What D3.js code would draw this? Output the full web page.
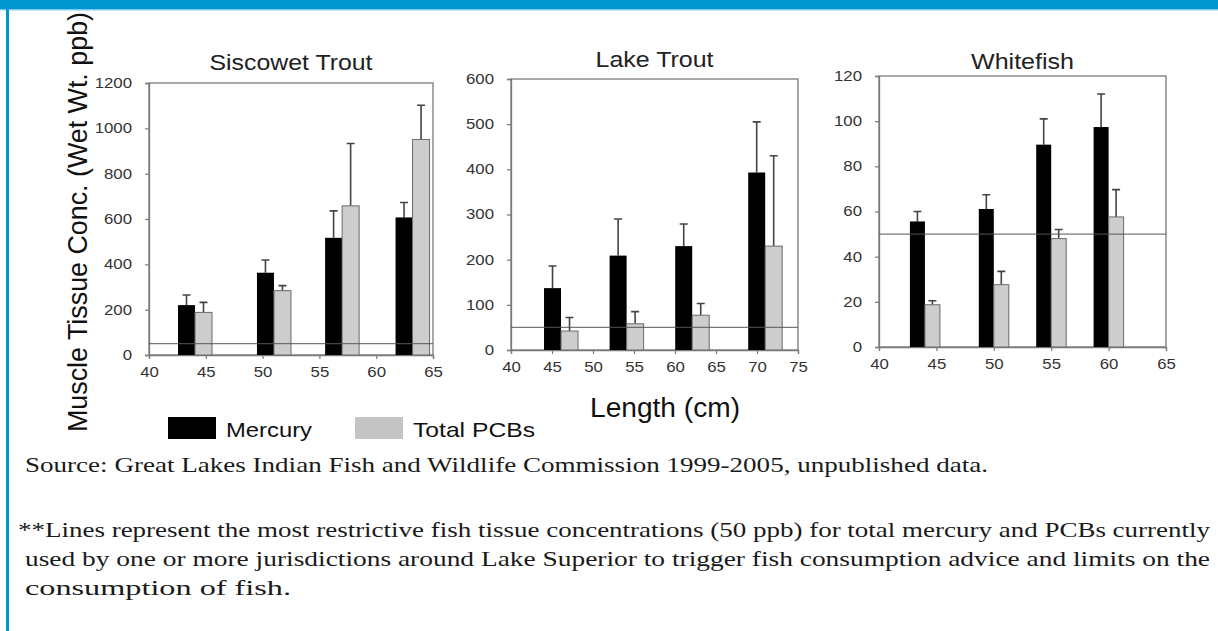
<!DOCTYPE html>
<html>
<head>
<meta charset="utf-8">
<script src="https://cdn.jsdelivr.net/npm/d3@7"></script>
<style>
  body { margin: 0; background: #fff; }
  svg { display: block; }
</style>
</head>
<body>
<div id="chart"></div>
<script>
// length classes (cm) where each pair of bars sits
const siscowetLengths = [44.05, 51.0, 57.0, 63.2]
const lakeLengths = [46.1, 54.1, 62.1, 71.0]
const whitefishLengths = [44.0, 50.0, 55.0, 60.0]

// mean values and upper error (mean + se), ppb
const siscowetMercury = [220, 363, 517, 607]
const siscowetMercuryErr = [265, 419, 636, 673]
const siscowetPCB = [188, 284, 658, 951]
const siscowetPCBErr = [232, 306, 933, 1102]

const lakeMercury = [137, 209, 230, 393]
const lakeMercuryErr = [186, 290, 279, 505]
const lakePCB = [42, 58, 77, 230]
const lakePCBErr = [72, 85, 103, 430]

const whitefishMercury = [55.6, 61.1, 89.6, 97.4]
const whitefishMercuryErr = [60, 67.4, 101, 112]
const whitefishPCB = [18.7, 27.6, 48, 57.6]
const whitefishPCBErr = [20.5, 33.5, 52, 69.7]

const siscowetYTicks = [0, 200, 400, 600, 800, 1000, 1200]
const lakeYTicks = [0, 100, 200, 300, 400, 500, 600]
const whitefishYTicks = [0, 20, 40, 60, 80, 100, 120]
const siscowetXTicks = [40, 45, 50, 55, 60, 65]
const lakeXTicks = [40, 45, 50, 55, 60, 65, 70, 75]
const whitefishXTicks = [40, 45, 50, 55, 60, 65]

const adviceLevel = 50
const seriesNames = ["Mercury", "Total PCBs"]

const panels = [
    {title: "Siscowet Trout", lengths: siscowetLengths, hg: siscowetMercury, hgErr: siscowetMercuryErr,
     pcb: siscowetPCB, pcbErr: siscowetPCBErr, yTicks: siscowetYTicks, xTicks: siscowetXTicks,
     box: {left: 149, right: 433, top: 83, bottom: 355}, barW: 17, titleY: 70, titleW: 163},
    {title: "Lake Trout", lengths: lakeLengths, hg: lakeMercury, hgErr: lakeMercuryErr,
     pcb: lakePCB, pcbErr: lakePCBErr, yTicks: lakeYTicks, xTicks: lakeXTicks,
     box: {left: 511, right: 798, top: 79, bottom: 350}, barW: 17, titleY: 67, titleW: 118},
    {title: "Whitefish", lengths: whitefishLengths, hg: whitefishMercury, hgErr: whitefishMercuryErr,
     pcb: whitefishPCB, pcbErr: whitefishPCBErr, yTicks: whitefishYTicks, xTicks: whitefishXTicks,
     box: {left: 879, right: 1166, top: 76, bottom: 347}, barW: 15, titleY: 69, titleW: 103}
]

const width = 1218, height = 631
const sans = "'Liberation Sans', Arial, sans-serif"
const serif = "'Liberation Serif', 'Times New Roman', serif"
const stretch = 1.2   // the source figure is a bit wider than tall

const svg = d3.select("#chart")
    .append("svg")
        .attr("width", width)
        .attr("height", height)

// blue frame of the page
svg.append("rect")
    .attr("x", 0).attr("y", 0)
    .attr("width", width).attr("height", 9)
    .attr("fill", "#0096d0")
svg.append("rect")
    .attr("x", 0).attr("y", 9)
    .attr("width", width).attr("height", 1.5)
    .attr("fill", "#7ccbea")
svg.append("rect")
    .attr("x", 6).attr("y", 9)
    .attr("width", 3).attr("height", height - 9)
    .attr("fill", "#0096d0")

panels.forEach(p => {
    const b = p.box
    const x = d3.scaleLinear()
        .domain([p.xTicks[0], p.xTicks[p.xTicks.length - 1]])
        .range([b.left, b.right])
    const y = d3.scaleLinear()
        .domain([0, p.yTicks[p.yTicks.length - 1]])
        .range([b.bottom, b.top])

    const g = svg.append("g")

    // plot frame
    g.append("rect")
        .attr("x", b.left).attr("y", b.top)
        .attr("width", b.right - b.left).attr("height", b.bottom - b.top)
        .attr("fill", "none")
        .attr("stroke", "#7a7a7a")
        .attr("stroke-width", 1.3)

    g.append("text")
        .attr("x", (b.left + b.right) / 2 - p.titleW / 2)
        .attr("y", p.titleY)
        .attr("font-family", sans)
        .attr("font-size", 22)
        .attr("fill", "#222")
        .attr("textLength", p.titleW)
        .attr("lengthAdjust", "spacingAndGlyphs")
        .text(p.title)

    const yAxis = g.append("g")
        .attr("transform", "translate(" + b.left + ",0)")
        .call(d3.axisLeft(y).tickValues(p.yTicks).tickFormat(d3.format("d")).tickSize(4).tickPadding(13))
    const xAxis = g.append("g")
        .attr("transform", "translate(0," + b.bottom + ")")
        .call(d3.axisBottom(x).tickValues(p.xTicks).tickFormat(d3.format("d")).tickSize(4).tickPadding(8))
    ;[yAxis, xAxis].forEach(a => {
        a.attr("font-family", sans).attr("font-size", 14)
        a.select(".domain").attr("stroke", "#7a7a7a").attr("stroke-width", 1.3)
        a.selectAll(".tick line").attr("stroke", "#7a7a7a").attr("stroke-width", 1.2)
        a.selectAll("text")
            .style("font-family", sans)
            .style("font-size", "14px")
            .attr("fill", "#333")
            .attr("transform", "scale(" + stretch + ",1)")
    })
    yAxis.selectAll("text").attr("x", -17 / stretch)

    const bw = p.barW
    const rows = p.lengths.map((len, i) => ({len: len, hg: p.hg[i], hgErr: p.hgErr[i], pcb: p.pcb[i], pcbErr: p.pcbErr[i]}))

    // error bars (drawn first, bars cover their base)
    const errs = []
    rows.forEach(d => {
        errs.push({cx: x(d.len) - bw / 2, v: d.hg, e: d.hgErr})
        errs.push({cx: x(d.len) + bw / 2, v: d.pcb, e: d.pcbErr})
    })
    g.selectAll(".err")
        .data(errs)
        .enter()
        .append("path")
            .attr("class", "err")
            .attr("d", d => "M" + d.cx + "," + y(d.v) + "V" + y(d.e) + "M" + (d.cx - 4) + "," + y(d.e) + "H" + (d.cx + 4))
            .attr("fill", "none")
            .attr("stroke", "#444")
            .attr("stroke-width", 1.6)

    g.selectAll(".hg")
        .data(rows)
        .enter()
        .append("rect")
            .attr("class", "hg")
            .attr("x", d => x(d.len) - bw)
            .attr("y", d => y(d.hg))
            .attr("width", bw)
            .attr("height", d => y(0) - y(d.hg))
            .attr("fill", "#000")

    g.selectAll(".pcb")
        .data(rows)
        .enter()
        .append("rect")
            .attr("class", "pcb")
            .attr("x", d => x(d.len))
            .attr("y", d => y(d.pcb))
            .attr("width", bw)
            .attr("height", d => y(0) - y(d.pcb))
            .attr("fill", "#cdcdcd")
            .attr("stroke", "#6a6a6a")
            .attr("stroke-width", 1)

    // 50 ppb advisory line
    g.append("line")
        .attr("x1", b.left).attr("x2", b.right)
        .attr("y1", y(adviceLevel)).attr("y2", y(adviceLevel))
        .attr("stroke", "#555")
        .attr("stroke-opacity", 0.8)
        .attr("stroke-width", 1.2)
})

// shared axis titles
svg.append("text")
    .attr("transform", "translate(87,432) rotate(-90)")
    .attr("font-family", sans)
    .attr("font-size", 27)
    .attr("fill", "#111")
    .attr("textLength", 420)
    .attr("lengthAdjust", "spacingAndGlyphs")
    .text("Muscle Tissue Conc. (Wet Wt. ppb)")

svg.append("text")
    .attr("x", 590)
    .attr("y", 417)
    .attr("font-family", sans)
    .attr("font-size", 27)
    .attr("fill", "#111")
    .attr("textLength", 150)
    .attr("lengthAdjust", "spacingAndGlyphs")
    .text("Length (cm)")

// legend
const legendX = [168, 355]
const legendTextW = [86, 122]
const legendColors = ["#000", "#c4c4c4"]
seriesNames.forEach((name, i) => {
    svg.append("rect")
        .attr("x", legendX[i]).attr("y", 417)
        .attr("width", 48).attr("height", 22)
        .attr("fill", legendColors[i])
    svg.append("text")
        .attr("x", legendX[i] + 58)
        .attr("y", 437)
        .attr("font-family", sans)
        .attr("font-size", 21)
        .attr("fill", "#111")
        .attr("textLength", legendTextW[i])
        .attr("lengthAdjust", "spacingAndGlyphs")
        .text(name)
})

// notes below the chart
const notes = [
    {text: "Source: Great Lakes Indian Fish and Wildlife Commission 1999-2005, unpublished data.", x: 25, y: 472, len: 963},
    {text: "**Lines represent the most restrictive fish tissue concentrations (50 ppb) for total mercury and PCBs currently", x: 18, y: 537, len: 1192},
    {text: "used by one or more jurisdictions around Lake Superior to trigger fish consumption advice and limits on the", x: 25, y: 566, len: 1185},
    {text: "consumption of fish.", x: 25, y: 595, len: 266}
]
notes.forEach(n => {
    svg.append("text")
        .attr("x", n.x)
        .attr("y", n.y)
        .style("font-family", serif)
        .attr("font-size", 22)
        .attr("fill", "#1a1a1a")
        .attr("textLength", n.len)
        .attr("lengthAdjust", "spacingAndGlyphs")
        .text(n.text)
})
</script>
</body>
</html>
